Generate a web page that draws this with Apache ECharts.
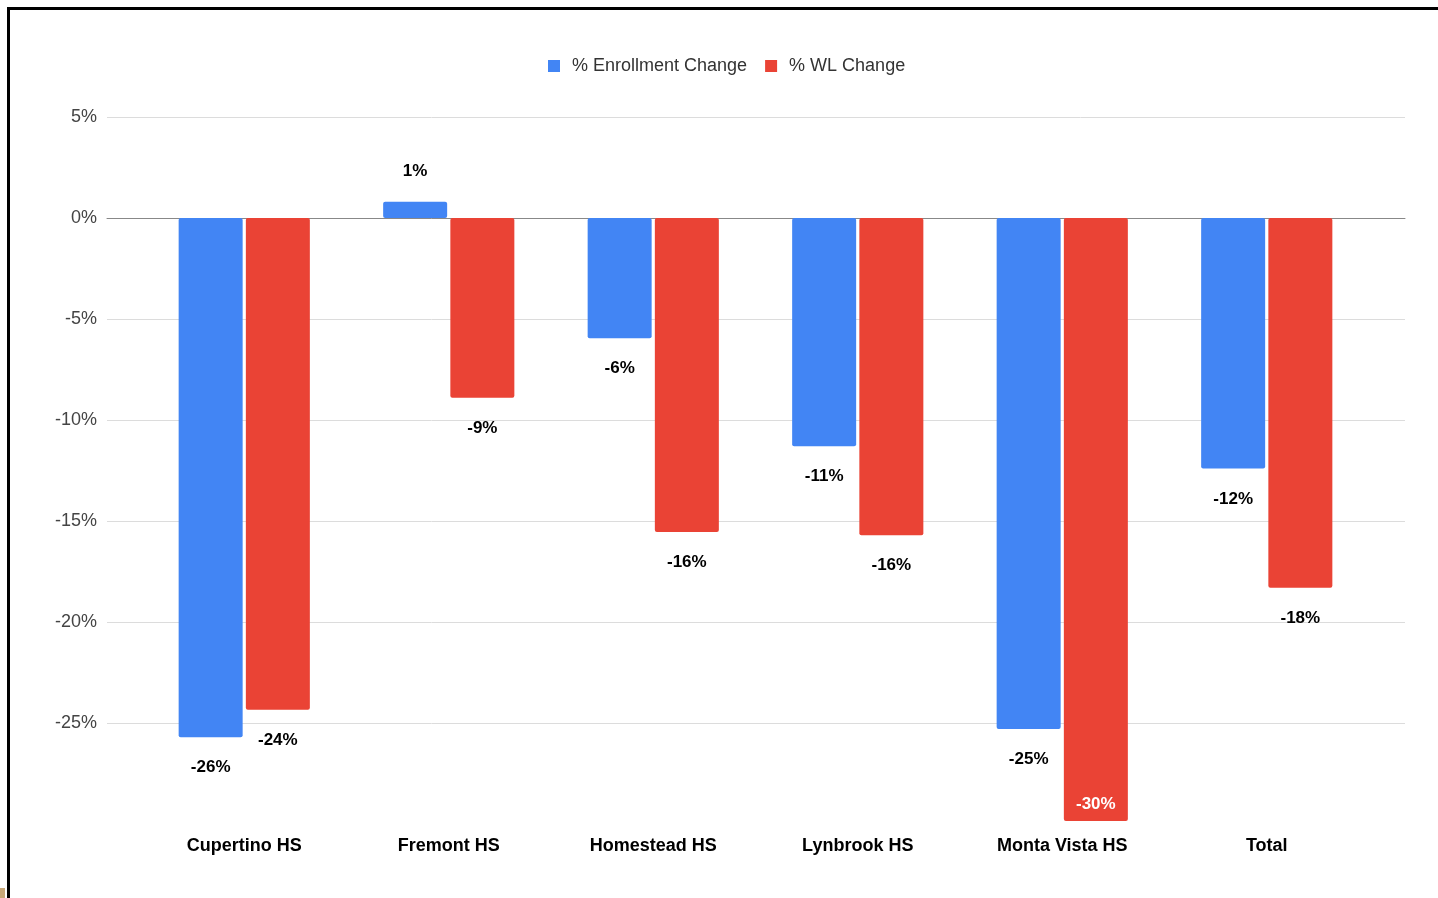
<!DOCTYPE html>
<html>
<head>
<meta charset="utf-8">
<script src="https://cdn.jsdelivr.net/npm/echarts@6/dist/echarts.min.js"></script>
<style>html,body{margin:0;padding:0;background:#fff}#c{width:1438px;height:898px}</style>
</head>
<body>
<div id="c"></div>
<script>
const categories = ['Cupertino HS', 'Fremont HS', 'Homestead HS', 'Lynbrook HS', 'Monta Vista HS', 'Total'];
const enrollmentChange = [-25.7, 0.8, -5.95, -11.3, -25.3, -12.4];
const wlChange = [-24.35, -8.9, -15.55, -15.7, -29.85, -18.3];
const seriesNames = ['% Enrollment Change', '% WL Change'];

function toData(vals, insideIdx) {
  return vals.map((v, i) => {
    const lbl = { position: v >= 0 ? 'top' : 'bottom' };
    if (i === insideIdx) { lbl.position = 'insideBottom'; lbl.color = '#fff'; lbl.distance = 8; }
    return { value: v, label: lbl };
  });
}

const chart = echarts.init(document.getElementById('c'));
const labelCommon = {
  show: true, distance: 22, fontFamily: 'Liberation Sans', fontWeight: 'bold', fontSize: 17, color: '#000',
  formatter: p => Math.round(p.value) + '%'
};
chart.setOption({
  animation: false,
  legend: {
    top: 52, left: 543, itemWidth: 12, itemHeight: 12, itemGap: 18,
    icon: 'rect',
    textStyle: { fontFamily: 'Liberation Sans', fontSize: 18, color: '#333', padding: [0, 0, 0, 7] },
    data: seriesNames
  },
  grid: [
    { left: 107, right: 33, top: 117, bottom: 74 },
    { left: 142, right: 69, top: 117, bottom: 74 }
  ],
  xAxis: [
    { type: 'value', gridIndex: 0, min: 0, max: 1, show: true, axisLabel: { show: false }, axisTick: { show: false }, splitLine: { show: false },
      axisLine: { show: true, onZero: true, lineStyle: { color: '#888', width: 1 } } },
    { type: 'category', gridIndex: 1, data: categories,
      axisLine: { show: false, onZero: false }, axisTick: { show: false },
      axisLabel: { margin: 13, fontFamily: 'Liberation Sans', fontWeight: 'bold', fontSize: 18, color: '#000' } }
  ],
  yAxis: [
    { type: 'value', gridIndex: 0, min: -30, max: 5, interval: 5,
      axisLine: { show: false }, axisTick: { show: false },
      axisLabel: { showMinLabel: false, margin: 10, fontFamily: 'Liberation Sans', fontSize: 18, color: '#444', formatter: v => v + '%' },
      splitLine: { show: true, showMinLine: false, lineStyle: { color: '#dcdcdc', width: 1 } } },
    { type: 'value', gridIndex: 1, min: -30, max: 5, interval: 5, show: false, splitLine: { show: false } }
  ],
  series: [
    { name: seriesNames[0], type: 'bar', xAxisIndex: 1, yAxisIndex: 1, barWidth: 64, barGap: '5%',
      itemStyle: { color: '#4285F4', borderRadius: 2 }, label: labelCommon, data: toData(enrollmentChange, -1) },
    { name: seriesNames[1], type: 'bar', xAxisIndex: 1, yAxisIndex: 1, barWidth: 64, barGap: '5%',
      itemStyle: { color: '#EA4335', borderRadius: 2 }, label: labelCommon, data: toData(wlChange, 4) }
  ],
  graphic: [
    { type: 'rect', shape: { x: 7, y: 7, width: 1431, height: 3 }, style: { fill: '#000' } },
    { type: 'rect', shape: { x: 7, y: 7, width: 3, height: 891 }, style: { fill: '#000' } },
    { type: 'rect', shape: { x: 0, y: 888, width: 5, height: 10 }, style: { fill: '#c8a878' } }
  ]
});
</script>
</body>
</html>
